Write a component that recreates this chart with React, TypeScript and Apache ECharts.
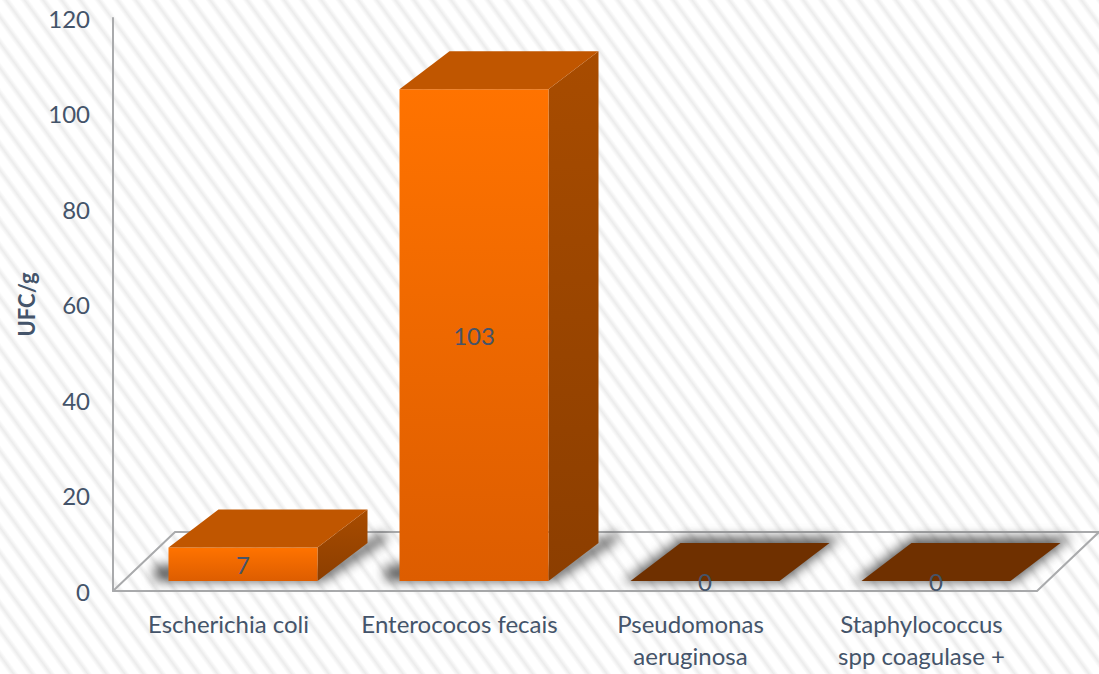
import React, { useEffect, useRef } from "react";
import * as echarts from "echarts";

const categories = ["Escherichia coli", "Enterococos fecais", "Pseudomonas\naeruginosa", "Staphylococcus\nspp coagulase +"];
const values = [7, 103, 0, 0];
const yTicks = [0, 20, 40, 60, 80, 100, 120];
const axisTitle = "UFC/g";

const TEXT = "#44546a";
const FONT = "Lato, 'Open Sans', sans-serif";
const DEPTH_X = 50;
const DEPTH_Y = 38;
const FRONT_SHIFT_X = 14.5;
const FRONT_SHIFT_Y = 10;
const BAR_RATIO = 0.645;

function blurredShadow(points: number[][], blur: number, color: string) {
  const pad = blur * 4;
  const xs = points.map((p) => p[0]);
  const ys = points.map((p) => p[1]);
  const minX = Math.min(...xs) - pad;
  const minY = Math.min(...ys) - pad;
  const width = Math.max(...xs) + pad - minX;
  const height = Math.max(...ys) + pad - minY;
  const canvas = document.createElement("canvas");
  canvas.width = Math.ceil(width);
  canvas.height = Math.ceil(height);
  const ctx = canvas.getContext("2d")!;
  ctx.filter = `blur(${blur}px)`;
  ctx.fillStyle = color;
  ctx.beginPath();
  points.forEach((p, i) => {
    if (i === 0) ctx.moveTo(p[0] - minX, p[1] - minY);
    else ctx.lineTo(p[0] - minX, p[1] - minY);
  });
  ctx.closePath();
  ctx.fill();
  return {
    type: "image",
    style: { image: canvas.toDataURL("image/png"), x: minX, y: minY, width: canvas.width, height: canvas.height },
  };
}

function renderFloor(params: any, api: any) {
  const cs = params.coordSys;
  const x0 = cs.x, x1 = cs.x + cs.width, y = cs.y + cs.height;
  const style = { stroke: "#a9aaac", lineWidth: 2, fill: "none" };
  return {
    type: "group",
    children: [
      { type: "polyline", shape: { points: [[x0, y], [x0 + 62, y - 59], [x1 + 62, y - 59]] }, style },
      { type: "polyline", shape: { points: [[x1, y], [x1 + 62, y - 59]] }, style },
    ],
  };
}

function renderBar(params: any, api: any) {
  const idx = api.value(0);
  const val = api.value(1);
  const base = api.coord([idx, 0]);
  const top = api.coord([idx, val]);
  const band = api.size([1, 0])[0];
  const w = band * BAR_RATIO;
  const l = base[0] - w / 2 + FRONT_SHIFT_X;
  const r = l + w;
  const b = base[1] - FRONT_SHIFT_Y;
  const t = top[1] - FRONT_SHIFT_Y;
  const zero = val === 0;
  const topFace = [[l, t], [l + DEPTH_X, t - DEPTH_Y], [r + DEPTH_X, t - DEPTH_Y], [r, t]];
  const children: any[] = [];
  if (zero) {
    const grown = [[l - 8, t + 1], [l + DEPTH_X + 2, t - DEPTH_Y - 6], [r + DEPTH_X + 12, t - DEPTH_Y - 6], [r + 4, t + 1]];
    children.push(blurredShadow(grown, 6, "rgba(70,70,70,0.85)"));
  } else {
    const floorShape = [[l - 14, b], [r + 6, b], [r + DEPTH_X + 18, b - DEPTH_Y - 2], [r + DEPTH_X + 18, b - DEPTH_Y - 12], [r, b - 10], [l - 14, b - 16]];
    children.push(blurredShadow(floorShape, 6, "rgba(70,70,70,0.9)"));
    children.push({
      type: "polygon",
      shape: { points: [[r, t], [r + DEPTH_X, t - DEPTH_Y], [r + DEPTH_X, b - DEPTH_Y], [r, b]] },
      style: {
        fill: new echarts.graphic.LinearGradient(0, 0, 0, 1, [
          { offset: 0, color: "#a84c00" },
          { offset: 1, color: "#8c3e00" },
        ]),
      },
    });
    children.push({
      type: "rect",
      shape: { x: l, y: t, width: w, height: b - t },
      style: {
        fill: new echarts.graphic.LinearGradient(0, 0, 0, 1, [
          { offset: 0, color: "#ff7300" },
          { offset: 1, color: "#dd5d00" },
        ]),
      },
    });
  }
  children.push({
    type: "polygon",
    shape: { points: topFace },
    style: { fill: zero ? "#6f3000" : "#c05600" },
  });
  children.push({
    type: "text",
    x: l + w / 2,
    y: zero ? b : (t + b) / 2,
    style: { text: String(val), fill: TEXT, font: `24px ${FONT}`, align: "center", verticalAlign: "middle" },
  });
  return { type: "group", children };
}

export default function App() {
  const ref = useRef<HTMLDivElement>(null);
  useEffect(() => {
    document.body.style.margin = "0";
    const chart = echarts.init(ref.current!, undefined, { renderer: "svg" });
    chart.setOption({
      animation: false,
      backgroundColor: "transparent",
      textStyle: { fontFamily: FONT },
      grid: { left: 113, right: 62, top: 18, bottom: 83, containLabel: false, outerBoundsMode: "none" },
      xAxis: {
        type: "category",
        data: categories,
        axisLine: { lineStyle: { color: "#a9aaac", width: 2 } },
        axisTick: { show: false },
        axisLabel: { color: TEXT, fontSize: 24, fontFamily: FONT, margin: 16, lineHeight: 32, interval: 0 },
      },
      yAxis: {
        type: "value",
        min: yTicks[0],
        max: yTicks[yTicks.length - 1],
        interval: yTicks[1] - yTicks[0],
        name: axisTitle,
        nameLocation: "middle",
        nameGap: 76,
        nameTextStyle: { color: TEXT, fontSize: 22, fontWeight: "bold", fontFamily: FONT },
        axisLine: { show: true, lineStyle: { color: "#a9aaac", width: 2 } },
        axisTick: { show: false },
        splitLine: { show: false },
        axisLabel: { color: TEXT, fontSize: 24, fontFamily: FONT, margin: 23 },
      },
      series: [
        { type: "custom", renderItem: renderFloor, data: [[0, 0]], silent: true, z: 1 },
        { type: "custom", renderItem: renderBar, data: values.map((v, i) => [i, v]), encode: { x: 0, y: 1 }, z: 2 },
      ],
    });
    return () => chart.dispose();
  }, []);
  return (
    <div
      style={{
        width: 1099,
        height: 674,
        overflow: "hidden",
        background: "repeating-linear-gradient(54deg, #ffffff 0px, #ffffff 7px, #ececec 11px, #ffffff 15px)",
      }}
    >
      <div ref={ref} style={{ width: 1099, height: 674 }} />
    </div>
  );
}
